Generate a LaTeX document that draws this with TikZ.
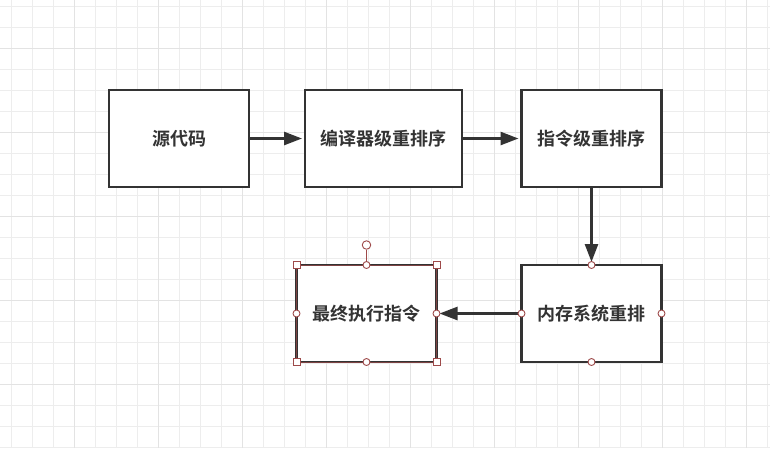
\documentclass[tikz,border=0pt]{standalone}
\usepackage{fontspec}
\newfontfamily\cjk{Noto Sans CJK SC}[BoldFont={Noto Sans CJK SC Bold}]
\usetikzlibrary{positioning,arrows.meta}
\definecolor{ink}{HTML}{333333}
\definecolor{gridc}{HTML}{EDEDED}
\definecolor{gridm}{HTML}{E3E3E3}
\definecolor{sel}{HTML}{9E4A4A}
\tikzset{
  box/.style={draw=ink,line width=2.6pt,fill=white,minimum width=140pt,minimum height=97pt,
              outer sep=0pt,text=ink,font=\cjk\bfseries\fontsize{18pt}{22pt}\selectfont},
  flow/.style={draw=ink,line width=2.6pt,-{Triangle[length=18pt,width=13pt]},shorten >=3pt},
  knob/.style={circle,draw=sel,fill=white,line width=0.9pt,inner sep=0pt,minimum size=7pt},
  corner/.style={rectangle,draw=sel,fill=white,line width=0.9pt,inner sep=0pt,minimum size=7pt},
}
\begin{document}
\begin{tikzpicture}[x=1pt,y=-1pt]
  \useasboundingbox (0,0) rectangle (770,448);
  \fill[white] (0,0) rectangle (770,448);
  % grid
  \foreach \i in {0,...,36} \draw[gridc,line width=0.8pt] ({11.7+21*\i},0) -- ++(0,448);
  \foreach \j in {0,...,21} \draw[gridc,line width=0.8pt] (0,{6+21*\j}) -- ++(770,0);
  \foreach \i in {3,7,...,35} \draw[gridm,line width=0.8pt] ({11.7+21*\i},0) -- ++(0,448);
  \foreach \j in {2,6,...,18} \draw[gridm,line width=0.8pt] (0,{6+21*\j}) -- ++(770,0);
  % boxes
  \node[box]                    (src) at (179,138.5) {源代码};
  \node[box,minimum width=157pt] (cmp) [right=56pt of src] {编译器级重排序};
  \node[box]                    (ins) [right=59.5pt of cmp] {指令级重排序};
  \node[box]                    (mem) [below=78pt of ins] {内存系统重排};
  \node[box]                    (fin) [left=85pt of mem] {最终执行指令};
  \draw[flow] (src) -- (cmp);
  \draw[flow] (cmp) -- (ins);
  \draw[flow] (ins) -- (mem);
  \draw[flow] (mem) -- (fin);
  % selection of the last box
  \draw[sel!70!ink,line width=0.5pt] (fin.north west) rectangle (fin.south east);
  \node[knob,minimum size=8.5pt] (rot) at ([yshift=20pt]fin.north) {};
  \draw[sel,line width=0.9pt] (rot) -- (fin.north);
  \foreach \a in {north west,north east,south west,south east} \node[corner] at (fin.\a) {};
  \foreach \a in {north,south,east,west} \node[knob] at (fin.\a) {};
  \foreach \a in {north,south,east,west} \node[knob] at (mem.\a) {};
\end{tikzpicture}
\end{document}
